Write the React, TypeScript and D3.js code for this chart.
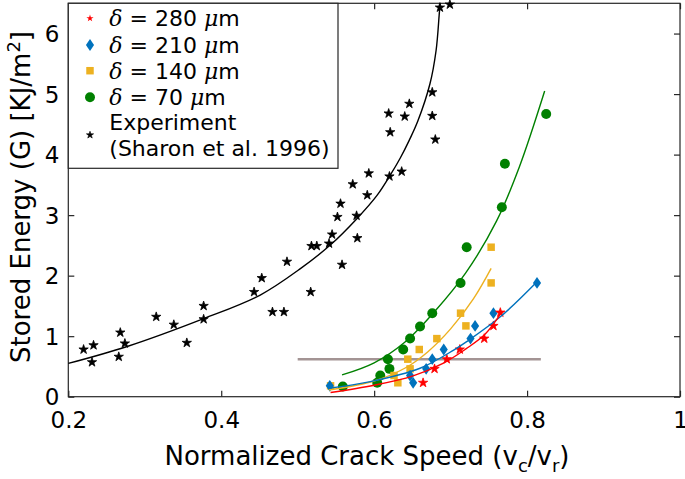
import React, { useRef, useEffect } from 'react';
import * as d3 from 'd3';

type Pt = [number, number];

// axis ticks
const xTicks = [0.2, 0.4, 0.6, 0.8, 1];
const yTicks = [0, 1, 2, 3, 4, 5, 6];

// Experiment (Sharon et al. 1996)
const expPoints: Pt[] = [
  [0.220, 0.78], [0.233, 0.85], [0.231, 0.57], [0.268, 1.06], [0.274, 0.88],
  [0.266, 0.66], [0.315, 1.32], [0.338, 1.19], [0.355, 0.89], [0.377, 1.50],
  [0.377, 1.28], [0.443, 1.73], [0.453, 1.96], [0.486, 2.23], [0.467, 1.40],
  [0.482, 1.40], [0.517, 1.73], [0.518, 2.49], [0.525, 2.49], [0.541, 2.53],
  [0.545, 2.68], [0.552, 2.97], [0.556, 3.19], [0.577, 2.99], [0.578, 2.62],
  [0.558, 2.18], [0.572, 3.51], [0.591, 3.33], [0.593, 3.69], [0.620, 3.64],
  [0.636, 3.72], [0.621, 4.37], [0.619, 4.68], [0.640, 4.63], [0.646, 4.84],
  [0.676, 4.64], [0.680, 4.25], [0.676, 5.03], [0.686, 6.43], [0.699, 6.48],
];
const expFit: Pt[] = [
  [0.2, 0.55], [0.277, 0.83], [0.377, 1.29], [0.451, 1.68], [0.504, 2.12],
  [0.543, 2.51], [0.578, 2.95], [0.604, 3.33], [0.621, 3.66], [0.634, 3.94],
  [0.646, 4.24], [0.657, 4.55], [0.673, 5.17], [0.681, 5.72], [0.685, 6.30],
  [0.6862, 6.5],
];

// delta = 280 um
const d280Points: Pt[] = [
  [0.664, 0.23], [0.679, 0.46], [0.695, 0.62], [0.712, 0.78],
  [0.744, 0.96], [0.756, 1.17], [0.765, 1.39],
];
const d280Fit: Pt[] = [
  [0.543, 0.07], [0.600, 0.19], [0.650, 0.34], [0.690, 0.55],
  [0.720, 0.79], [0.745, 1.03], [0.767, 1.40],
];

// delta = 210 um
const d210Points: Pt[] = [
  [0.542, 0.18], [0.651, 0.23], [0.647, 0.35], [0.668, 0.46], [0.676, 0.62],
  [0.691, 0.78], [0.726, 0.96], [0.732, 1.17], [0.756, 1.38], [0.813, 1.88],
];
const d210Fit: Pt[] = [
  [0.540, 0.14], [0.595, 0.25], [0.660, 0.47], [0.704, 0.77],
  [0.721, 0.91], [0.765, 1.32], [0.813, 1.90],
];

// delta = 140 um
const d140Points: Pt[] = [
  [0.543, 0.18], [0.631, 0.23], [0.626, 0.35], [0.647, 0.46], [0.644, 0.62],
  [0.659, 0.78], [0.682, 0.96], [0.720, 1.17], [0.713, 1.38], [0.753, 1.88],
  [0.753, 2.47],
];
const d140Fit: Pt[] = [
  [0.541, 0.11], [0.600, 0.26], [0.640, 0.47], [0.670, 0.74],
  [0.700, 1.12], [0.730, 1.62], [0.753, 2.12],
];

// delta = 70 um
const d70Points: Pt[] = [
  [0.559, 0.17], [0.604, 0.23], [0.608, 0.35], [0.620, 0.46], [0.618, 0.62],
  [0.638, 0.78], [0.647, 0.96], [0.660, 1.16], [0.676, 1.38], [0.713, 1.88],
  [0.721, 2.47], [0.767, 3.13], [0.771, 3.85], [0.825, 4.67],
];
const d70Fit: Pt[] = [
  [0.558, 0.36], [0.600, 0.56], [0.640, 0.90], [0.680, 1.42],
  [0.720, 2.05], [0.760, 2.90], [0.790, 3.80], [0.823, 5.05],
];

const thresholdLine: Pt[] = [[0.5, 0.62], [0.818, 0.62]];

const W = 685;
const H = 479;
const FONT = '"DejaVu Sans", Arial, sans-serif';
const AXIS = '#262626';

const App: React.FC = () => {
  const svgRef = useRef<SVGSVGElement>(null);

  useEffect(() => {
    if (!svgRef.current) return;
    d3.select(svgRef.current).selectAll('*').remove();

    const margin = { top: 3.3, right: 5, bottom: 82.3, left: 68.3 };
    const innerWidth = W - margin.left - margin.right;
    const innerHeight = H - margin.top - margin.bottom;

    const svg = d3.select(svgRef.current)
      .attr('width', W)
      .attr('height', H)
      .style('font-family', FONT);

    svg.append('rect').attr('width', W).attr('height', H).attr('fill', 'white');

    const g = svg.append('g')
      .attr('transform', `translate(${margin.left},${margin.top})`);

    const x = d3.scaleLinear().domain([0.2, 1]).range([0, innerWidth]);
    const y = d3.scaleLinear().domain([0, 6.5]).range([innerHeight, 0]);

    // axes (ticks pointing inward)
    const styleAxis = (sel: d3.Selection<SVGGElement, unknown, null, undefined>) => {
      sel.select('.domain').remove();
      sel.selectAll('line').attr('stroke', AXIS).attr('stroke-width', 1.2);
      sel.attr('font-family', FONT).attr('font-size', 23);
      sel.selectAll('text').attr('fill', 'black');
    };

    const bottom = g.append('g')
      .attr('transform', `translate(0,${innerHeight})`)
      .call(d3.axisBottom(x).tickValues(xTicks).tickSize(-6)
        .tickFormat(d => (+d === 1 ? '1' : d3.format('.1f')(+d))));
    styleAxis(bottom);
    bottom.selectAll('text').attr('dy', null).attr('y', 31);

    const left = g.append('g')
      .call(d3.axisLeft(y).tickValues(yTicks).tickSize(-6).tickPadding(9)
        .tickFormat(d3.format('d')));
    styleAxis(left);
    left.selectAll('text').attr('dy', '0.36em');

    const top = g.append('g')
      .call(d3.axisTop(x).tickValues(xTicks).tickSize(-6).tickFormat(() => ''));
    styleAxis(top);

    const right = g.append('g')
      .attr('transform', `translate(${innerWidth},0)`)
      .call(d3.axisRight(y).tickValues(yTicks).tickSize(-6).tickFormat(() => ''));
    styleAxis(right);

    g.append('rect')
      .attr('width', innerWidth)
      .attr('height', innerHeight)
      .attr('fill', 'none')
      .attr('stroke', AXIS)
      .attr('stroke-width', 1.2);

    const line = d3.line<Pt>()
      .x(d => x(d[0]))
      .y(d => y(d[1]))
      .curve(d3.curveCatmullRom.alpha(0.5));

    // horizontal reference line
    g.append('path')
      .attr('d', line(thresholdLine))
      .attr('fill', 'none')
      .attr('stroke', '#a39494')
      .attr('stroke-width', 2.6);

    const series = [
      { pts: d70Points, fit: d70Fit, color: '#008000', type: d3.symbolCircle, size: 78, sx: 1, edge: 0 },
      { pts: d140Points, fit: d140Fit, color: '#EDB120', type: d3.symbolSquare, size: 56, sx: 1, edge: 0 },
      { pts: d210Points, fit: d210Fit, color: '#0072BD', type: d3.symbolDiamond, size: 40, sx: 1.2, edge: 0 },
      { pts: d280Points, fit: d280Fit, color: '#FF0000', type: d3.symbolStar, size: 27, sx: 1, edge: 0.8 },
      { pts: expPoints, fit: expFit, color: '#000000', type: d3.symbolStar, size: 27, sx: 1, edge: 0.8 },
    ];

    series.forEach(s => {
      g.append('g')
        .selectAll('path')
        .data(s.pts)
        .join('path')
        .attr('transform', d => `translate(${x(d[0])},${y(d[1])}) scale(${s.sx},1)`)
        .attr('d', d3.symbol().type(s.type).size(s.size)())
        .attr('fill', s.color)
        .attr('stroke', s.edge ? s.color : 'none')
        .attr('stroke-width', s.edge)
        .attr('stroke-linejoin', 'round');
    });

    series.forEach(s => {
      g.append('path')
        .attr('d', line(s.fit))
        .attr('fill', 'none')
        .attr('stroke', s.color)
        .attr('stroke-width', 1.4);
    });

    // legend
    const lg = svg.append('g');
    lg.append('rect')
      .attr('x', 68.3)
      .attr('y', 3.3)
      .attr('width', 269.7)
      .attr('height', 165)
      .attr('fill', 'white')
      .attr('stroke', AXIS)
      .attr('stroke-width', 1.2);

    const legendItems = [
      { label: '280', color: '#FF0000', type: d3.symbolStar, size: 16, sx: 1, y: 18.3 },
      { label: '210', color: '#0072BD', type: d3.symbolDiamond, size: 40, sx: 1.2, y: 45 },
      { label: '140', color: '#EDB120', type: d3.symbolSquare, size: 56, sx: 1, y: 70.7 },
      { label: '70', color: '#008000', type: d3.symbolCircle, size: 78, sx: 1, y: 97.3 },
    ];

    legendItems.forEach(it => {
      lg.append('path')
        .attr('transform', `translate(90,${it.y}) scale(${it.sx},1)`)
        .attr('d', d3.symbol().type(it.type).size(it.size)())
        .attr('fill', it.color);
      const t = lg.append('text')
        .attr('x', 109.3)
        .attr('y', it.y + 8)
        .attr('font-size', 22)
        .attr('fill', 'black');
      t.append('tspan').attr('font-family', '"DejaVu Serif", serif').attr('font-style', 'italic').text('δ');
      t.append('tspan').text(` = ${it.label} `);
      t.append('tspan').attr('font-family', '"DejaVu Serif", serif').attr('font-style', 'italic').text('μ');
      t.append('tspan').text('m');
    });

    lg.append('path')
      .attr('transform', 'translate(90,135)')
      .attr('d', d3.symbol().type(d3.symbolStar).size(16)())
      .attr('fill', 'black')
      .attr('stroke', 'black')
      .attr('stroke-width', 0.6);
    lg.append('text').attr('x', 109.3).attr('y', 130).attr('font-size', 22).text('Experiment');
    lg.append('text').attr('x', 109.3).attr('y', 156).attr('font-size', 22).text('(Sharon et al. 1996)');

    // axis labels
    const xl = svg.append('text')
      .attr('x', 367)
      .attr('y', 465)
      .attr('text-anchor', 'middle')
      .attr('font-size', 26)
      .attr('fill', 'black');
    xl.append('tspan').text('Normalized Crack Speed (v');
    xl.append('tspan').attr('dy', 7).attr('font-size', 18).text('c');
    xl.append('tspan').attr('dy', -7).text('/v');
    xl.append('tspan').attr('dy', 7).attr('font-size', 18).text('r');
    xl.append('tspan').attr('dy', -7).text(')');

    const yl = svg.append('text')
      .attr('transform', 'translate(30,197) rotate(-90)')
      .attr('text-anchor', 'middle')
      .attr('font-size', 26)
      .attr('fill', 'black');
    yl.append('tspan').text('Stored Energy (G) [KJ/m');
    yl.append('tspan').attr('dy', -10).attr('font-size', 18).text('2');
    yl.append('tspan').attr('dy', 10).text(']');
  }, []);

  return (
    <svg ref={svgRef} style={{ position: 'absolute', left: 0, top: 0 }} />
  );
};

export default App;
